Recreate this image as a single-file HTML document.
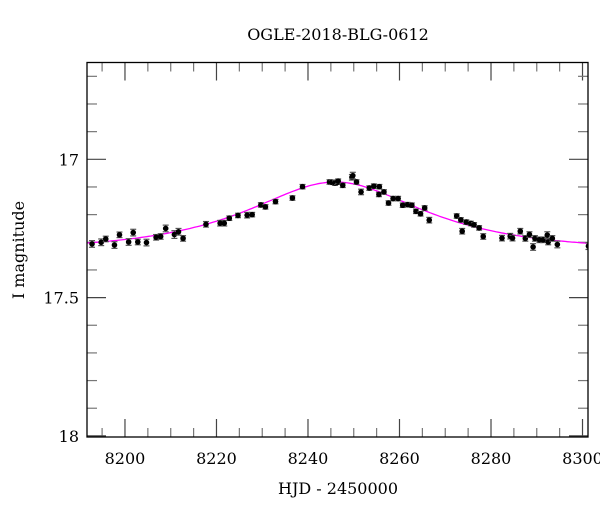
<!DOCTYPE html>
<html><head><meta charset="utf-8"><style>
body{margin:0;background:#fff;}
svg{display:block;font-family:"DejaVu Serif","Liberation Serif",serif;}
</style></head><body>
<svg id="chart" width="600" height="512" viewBox="0 0 600 512">
<text x="338" y="40" text-anchor="middle" font-size="16">OGLE-2018-BLG-0612</text>
<text x="338" y="494" text-anchor="middle" font-size="16">HJD - 2450000</text>
<text transform="translate(24,250) rotate(-90)" text-anchor="middle" font-size="16">I magnitude</text>
<defs><clipPath id="clip"><rect x="87" y="62" width="501" height="375"/></clipPath></defs>
<g id="axes"></g>
<g id="model" clip-path="url(#clip)"></g>
<g id="pts" clip-path="url(#clip)"></g>
<rect x="87" y="62.5" width="501" height="374.5" fill="none" stroke="#000" stroke-width="1.3"/>
</svg>
<script>
const hjd=[8192.8,8194.8,8195.8,8197.7,8198.8,8200.8,8201.8,8202.8,8204.7,8206.8,8207.8,8208.9,8210.8,8211.7,8212.7,8217.7,8220.8,8221.7,8222.8,8224.7,8226.7,8227.8,8229.7,8230.7,8232.9,8236.6,8238.8,8244.7,8245.2,8245.9,8246.4,8246.6,8247.6,8249.6,8249.8,8250.6,8251.6,8253.4,8254.4,8255.6,8255.5,8256.6,8257.6,8258.6,8259.7,8260.7,8261.8,8262.7,8263.6,8264.6,8265.5,8266.5,8272.5,8273.4,8273.7,8274.6,8275.6,8276.3,8277.4,8278.3,8282.4,8284.2,8284.7,8286.4,8287.5,8288.4,8289.2,8289.6,8290.6,8291.4,8292.3,8292.5,8293.4,8294.5,8301.3];
const mag=[17.306,17.300,17.288,17.310,17.273,17.299,17.265,17.299,17.301,17.282,17.279,17.250,17.272,17.262,17.286,17.235,17.231,17.231,17.213,17.203,17.202,17.200,17.165,17.172,17.153,17.140,17.099,17.082,17.083,17.086,17.083,17.079,17.094,17.065,17.059,17.082,17.118,17.104,17.097,17.099,17.127,17.118,17.158,17.142,17.142,17.166,17.164,17.166,17.188,17.197,17.176,17.220,17.205,17.219,17.260,17.227,17.232,17.237,17.248,17.279,17.285,17.278,17.285,17.260,17.286,17.272,17.317,17.286,17.291,17.291,17.274,17.299,17.286,17.308,17.314];
const magErr=[0.012,0.012,0.010,0.012,0.010,0.012,0.012,0.010,0.012,0.010,0.010,0.012,0.014,0.012,0.010,0.010,0.010,0.010,0.008,0.008,0.010,0.008,0.008,0.008,0.008,0.008,0.008,0.008,0.008,0.008,0.008,0.008,0.008,0.010,0.012,0.008,0.010,0.008,0.008,0.008,0.008,0.008,0.008,0.008,0.008,0.008,0.008,0.008,0.008,0.008,0.008,0.010,0.008,0.008,0.010,0.008,0.008,0.008,0.008,0.010,0.010,0.010,0.010,0.010,0.010,0.010,0.012,0.010,0.010,0.010,0.012,0.010,0.010,0.012,0.012];
const xTicks=[8200,8220,8240,8260,8280,8300];
const yTicks=[17,17.5,18];
const yTickLabels=["17","17.5","18"];
const modelParams={t0:8246,tE:31,u0:0.67,base:17.33,fs:0.35};

const NS="http://www.w3.org/2000/svg";
const X0=87,X1=588,Y0=62.5,Y1=437;
const xMin=8191.7,xMax=8301.2,yMin=16.65,yMax=18.004;
const xs=v=>X0+(v-xMin)/(xMax-xMin)*(X1-X0);
const ys=v=>Y0+(v-yMin)/(yMax-yMin)*(Y1-Y0);
function mk(tag,attrs,parent){const e=document.createElementNS(NS,tag);for(const k in attrs)e.setAttribute(k,attrs[k]);parent.appendChild(e);return e;}
const axes=document.getElementById('axes');
for(let v=8195;v<=8300;v+=5){
  const major=(v%20===0);const L=major?18:9;const x=xs(v);
  const t1=mk('line',{x1:x,x2:x,y1:Y1,y2:Y1-L,stroke:major?'#444':'#777','stroke-width':1.2},axes);
  
  
  const t2=mk('line',{x1:x,x2:x,y1:Y0,y2:Y0+L,stroke:major?'#444':'#777','stroke-width':1.2},axes);
  
  
}
xTicks.forEach(v=>{
  const t=mk('text',{x:xs(v),y:Y1+27,'text-anchor':'middle','font-size':16},axes);
  t.textContent=String(v);
  
  
});
for(let i=0;i<=13;i++){
  const v=16.7+i*0.1;const major=Math.abs(v*2-Math.round(v*2))<1e-6;const L=major?19:10;const y=ys(v);
  const t1=mk('line',{x1:X0,x2:X0+L,y1:y,y2:y,stroke:major?'#444':'#777','stroke-width':1.2},axes);
  
  
  const t2=mk('line',{x1:X1,x2:X1-L,y1:y,y2:y,stroke:major?'#444':'#777','stroke-width':1.2},axes);
  
  
}
yTicks.forEach((v,i)=>{
  const t=mk('text',{x:X0-8,y:ys(v)+6,'text-anchor':'end','font-size':16},axes);
  t.textContent=yTickLabels[i];
  
  
});
function amp(u){return (u*u+2)/(u*Math.sqrt(u*u+4));}
const p=modelParams;let d="";
for(let t=xMin;t<=xMax;t+=0.5){
  const tau=(t-p.t0)/p.tE;const u=Math.sqrt(p.u0*p.u0+tau*tau);
  const m=p.base-2.5*Math.log10(p.fs*amp(u)+1-p.fs);
  d+=(d?"L":"M")+xs(t).toFixed(1)+","+ys(m).toFixed(1);
}
const ml=mk('path',{d:d,fill:'none',stroke:'#ff00ff','stroke-width':1.3},document.getElementById('model'));


const pts=document.getElementById('pts');
hjd.forEach((t,i)=>{
  const x=xs(t),y=ys(mag[i]),ya=ys(mag[i]-magErr[i]),yb=ys(mag[i]+magErr[i]);
  const g=mk('g',{},pts);
  
  
  mk('line',{x1:x,x2:x,y1:ya,y2:yb,stroke:'#555','stroke-width':1.2},g);
  mk('line',{x1:x-3,x2:x+3,y1:ya,y2:ya,stroke:'#555','stroke-width':1.2},g);
  mk('line',{x1:x-3,x2:x+3,y1:yb,y2:yb,stroke:'#555','stroke-width':1.2},g);
  mk('circle',{cx:x,cy:y,r:2.8,fill:'#000'},g);
});
</script>
</body></html>
